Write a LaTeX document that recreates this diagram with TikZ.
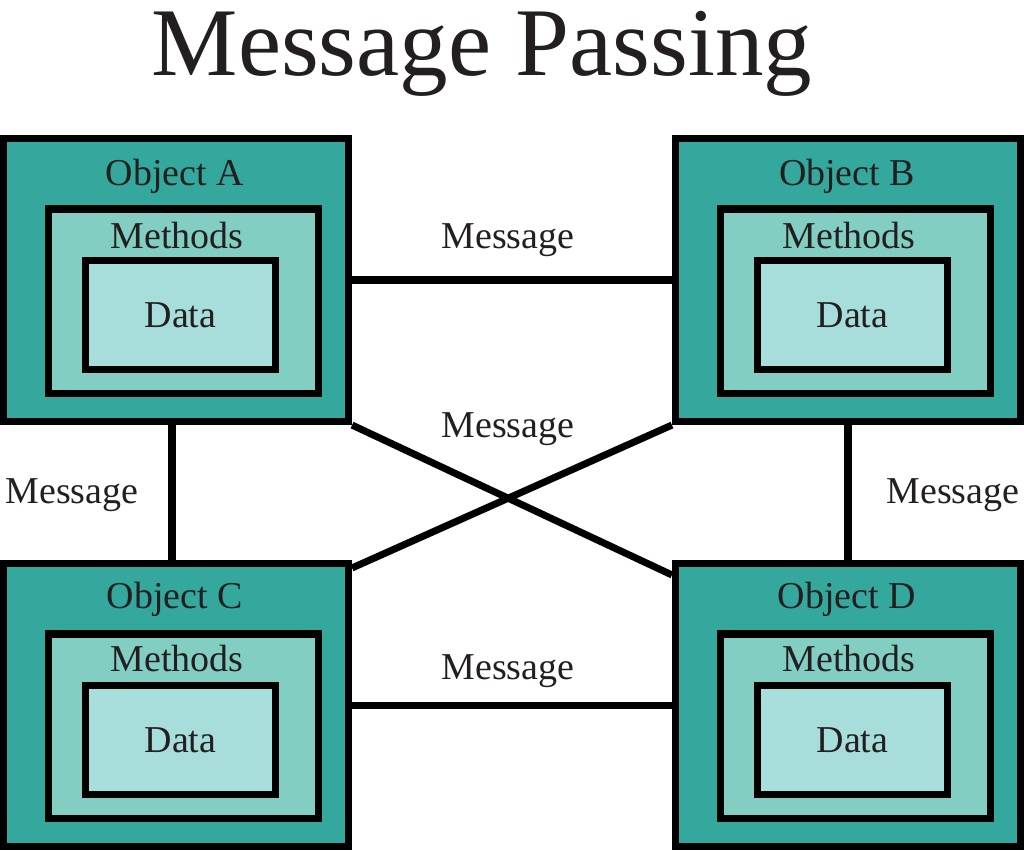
\documentclass[tikz,border=0pt]{standalone}
\usepackage{fontspec}
\setmainfont{Liberation Serif}
\usetikzlibrary{calc}
\definecolor{tealdark}{RGB}{52,168,157}
\definecolor{tealmid}{RGB}{130,206,195}
\definecolor{teallight}{RGB}{167,222,220}
\definecolor{inkgray}{RGB}{35,31,32}
\tikzset{
  objbox/.style={draw=black,line width=5pt,fill=tealdark,inner sep=0pt,
    minimum width=8.625cm,minimum height=7.075cm},
  methbox/.style={draw=black,line width=5pt,fill=tealmid,inner sep=0pt,
    minimum width=6.725cm,minimum height=4.6cm},
  databox/.style={draw=black,line width=5pt,fill=teallight,inner sep=0pt,
    minimum width=4.75cm,minimum height=2.74cm,text=inkgray,
    font=\fontsize{27}{30}\selectfont},
  lbl/.style={anchor=base,text=inkgray,font=\fontsize{27}{30}\selectfont},
  link/.style={line width=5pt}
}
\begin{document}
\begin{tikzpicture}[x=0.025cm,y=-0.025cm]
    \useasboundingbox (0,0) rectangle (1024,851);
    \node[anchor=base,text=inkgray,font=\fontsize{69}{72}\selectfont] (title) at (482,75) {Message Passing};
    % object A
    \node[objbox] (A) at (176,280) {};
    \node[methbox] (mA) at (183.5,301) {};
    \node[databox] (dA) at (180.5,315) {Data};
    \node[lbl] (oA) at (175,185) {Object A};
    \node[lbl] (tA) at (177,248) {Methods};
    % object B
    \node[objbox] (B) at (848,280) {};
    \node[methbox] (mB) at (855.5,301) {};
    \node[databox] (dB) at (852.5,315) {Data};
    \node[lbl] (oB) at (847,185) {Object B};
    \node[lbl] (tB) at (849,248) {Methods};
    % object C
    \node[objbox] (C) at (176,705) {};
    \node[methbox] (mC) at (183.5,726) {};
    \node[databox] (dC) at (180.5,740) {Data};
    \node[lbl] (oC) at (175,608) {Object C};
    \node[lbl] (tC) at (177,671) {Methods};
    % object D
    \node[objbox] (D) at (848,705) {};
    \node[methbox] (mD) at (855.5,726) {};
    \node[databox] (dD) at (852.5,740) {Data};
    \node[lbl] (oD) at (847,608) {Object D};
    \node[lbl] (tD) at (849,671) {Methods};
    % messages
    \draw[link] (A) -- (B);
    \draw[link] (C) -- (D);
    \draw[link] ($(A.south)+(-4,0)$) -- ($(C.north)+(-4,0)$);
    \draw[link] (B.south) -- (D.north);
    \draw[link] (A.south east) -- ($(D.north west)+(0,15)$);
    \draw[link] (B.south west) -- ($(C.north east)+(0,8)$);
    \node[lbl] (m1) at (508,248) {Message};
    \node[lbl] (m2) at (508,437) {Message};
    \node[lbl] (m3) at (72,503) {Message};
    \node[lbl] (m4) at (953,503) {Message};
    \node[lbl] (m5) at (508,679) {Message};
\end{tikzpicture}
\end{document}
